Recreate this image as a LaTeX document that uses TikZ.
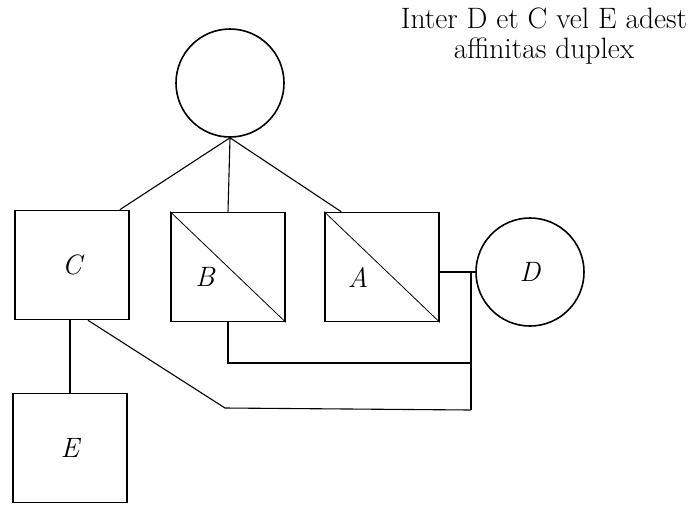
\documentclass[tikz,border=0pt]{standalone}
\usepackage{tikz}
\usetikzlibrary{calc}

\begin{document}
\begin{tikzpicture}[
    x=1pt, y=-1pt,
    font=\fontsize{28}{30}\selectfont,
    male/.style={draw, line width=1.6pt, minimum width=114pt, minimum height=109pt, inner sep=0pt},
    female/.style={draw, circle, line width=1.6pt, minimum size=108pt, inner sep=0pt},
    tag/.style={font=\fontsize{28}{30}\selectfont\itshape},
    wire/.style={line width=1.1pt},
    slash/.style={line width=0.8pt}
  ]
    \useasboundingbox (0,0) rectangle (695,504);
    \node[female] (pater) at (230,83) {};
    \node[male, tag] (C) at (72,265) {C};
    \node[male] (B) at (228,267) {};
    \node[male] (A) at (382,267) {};
    \node[female, tag] (D) at (530,272) {D};
    \node[male, tag] (E) at (70,448) {E};
    \node[tag] (Blab) at (205,277) {B};
    \node[tag] (Alab) at (358,277) {A};
    \node[align=center, font=\fontsize{29.5}{30}\selectfont] (note) at (544,36)
      {Inter D et C vel E adest\\affinitas duplex};
    % crossed squares
    \draw[slash] (B.north west) -- (B.south east);
    \draw[slash] (A.north west) -- (A.south east);
    % descent from the top
    \draw[wire] (pater.south) -- ([xshift=-10pt]C.north east);
    \draw[wire] (pater.south) -- (B.north);
    \draw[wire] (pater.south) -- ([xshift=17pt]A.north west);
    \draw[wire] (C.south -| E.north) -- (E.north);
    % links to D
    \coordinate (railtop) at (471,272);
    \coordinate (railbot) at (471,410);
    \coordinate (knee) at (225,408);
    \draw[wire] (A.east |- D.west) -- (D.west);
    \draw[wire] (railtop) -- (railbot);
    \draw[wire] (B.south) |- (471,363);
    \draw[wire] ([xshift=16pt]C.south) -- (knee) -- (railbot);
\end{tikzpicture}
\end{document}
